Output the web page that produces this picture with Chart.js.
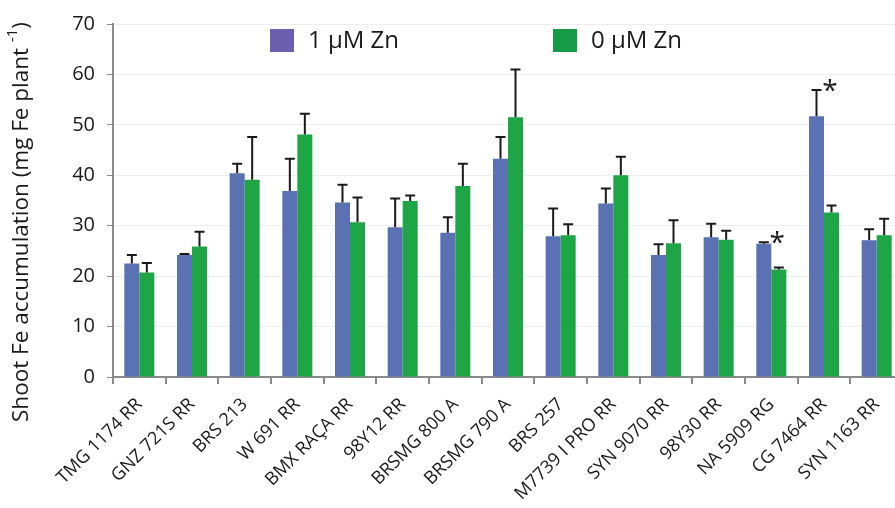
<!DOCTYPE html>
<html>
<head>
<meta charset="utf-8">
<script src="https://cdn.jsdelivr.net/npm/chart.js@4/dist/chart.umd.min.js"></script>
<style>
html,body{margin:0;padding:0;background:#fff;overflow:hidden;}
#wrap{width:895px;height:508px;overflow:hidden;position:relative;}
#box{width:903px;height:508px;position:absolute;left:0;top:0;}
</style>
</head>
<body>
<div id="wrap"><div id="box"><canvas id="c"></canvas></div></div>
<script>
const categories = ["TMG 1174 RR","GNZ 721S RR","BRS 213","W 691 RR","BMX RAÇA RR","98Y12 RR","BRSMG 800 A","BRSMG 790 A","BRS 257","M7739 I PRO RR","SYN 9070 RR","98Y30 RR","NA 5909 RG","CG 7464 RR","SYN 1163 RR"];
const zn1Mean = [22.5,24.2,40.4,36.9,34.6,29.7,28.6,43.3,27.9,34.4,24.2,27.7,26.4,51.7,27.1];
const zn1Err  = [1.7,0.2,1.9,6.4,3.5,5.7,3.1,4.3,5.5,3.0,2.1,2.7,0.3,5.2,2.2];
const zn0Mean = [20.7,25.9,39.1,48.1,30.7,34.9,37.9,51.5,28.1,40.0,26.5,27.2,21.3,32.6,28.1];
const zn0Err  = [1.9,2.9,8.5,4.1,4.9,1.1,4.4,9.5,2.2,3.7,4.6,1.8,0.4,1.4,3.3];
const signif  = ["","","","","","","","","","","","","*","*",""];
const yTicks  = [0,10,20,30,40,50,60,70];
const seriesLabels = ["1 \u00B5M Zn","0 \u00B5M Zn"];

const FONT = "'Open Sans', 'DejaVu Sans', sans-serif";
const errors = [zn1Err, zn0Err];

const errorBarPlugin = {
  id: 'errorBars',
  afterDatasetsDraw(chart) {
    const ctx = chart.ctx;
    const y = chart.scales.y;
    ctx.save();
    ctx.strokeStyle = '#1a1a1a';
    ctx.lineWidth = 2;
    chart.data.datasets.forEach((ds, di) => {
      const meta = chart.getDatasetMeta(di);
      meta.data.forEach((bar, i) => {
        const top = y.getPixelForValue(ds.data[i] + errors[di][i]);
        const base = bar.y;
        ctx.beginPath();
        ctx.moveTo(bar.x, base);
        ctx.lineTo(bar.x, top);
        ctx.moveTo(bar.x - 5, top);
        ctx.lineTo(bar.x + 5, top);
        ctx.stroke();
      });
    });
    const meta0 = chart.getDatasetMeta(0);
    ctx.fillStyle = '#1a1a1a';
    ctx.font = '28px ' + FONT;
    ctx.textAlign = 'center';
    ctx.textBaseline = 'middle';
    signif.forEach((s, i) => {
      if (!s) return;
      const bar = meta0.data[i];
      const top = y.getPixelForValue(zn1Mean[i] + zn1Err[i]);
      ctx.fillText(s, bar.x + bar.width / 2 + 6, top + 2);
    });
    ctx.restore();
  }
};

const legendPlugin = {
  id: 'innerLegend',
  afterDraw(chart) {
    const ctx = chart.ctx;
    const items = [
      {x: 270, color: '#6c5fae', text: seriesLabels[0]},
      {x: 553, color: '#179a48', text: seriesLabels[1]}
    ];
    ctx.save();
    ctx.font = '24px ' + FONT;
    ctx.textBaseline = 'middle';
    ctx.textAlign = 'left';
    items.forEach(it => {
      ctx.fillStyle = it.color;
      ctx.fillRect(it.x, 29, 24, 23);
      ctx.fillStyle = '#1a1a1a';
      ctx.fillText(it.text, it.x + 38, 41);
    });
    ctx.restore();
  }
};

const yTitlePlugin = {
  id: 'yTitle',
  afterDraw(chart) {
    const ctx = chart.ctx;
    const main = 'Shoot Fe accumulation (mg Fe plant ';
    const sup = '-1';
    const end = ')';
    ctx.save();
    ctx.translate(22, 222);
    ctx.rotate(-Math.PI / 2);
    ctx.fillStyle = '#1a1a1a';
    ctx.textBaseline = 'middle';
    ctx.font = '22.5px ' + FONT;
    const w1 = ctx.measureText(main).width;
    ctx.font = '15px ' + FONT;
    const w2 = ctx.measureText(sup).width;
    ctx.font = '22.5px ' + FONT;
    const w3 = ctx.measureText(end).width;
    let x = -(w1 + w2 + w3) / 2;
    ctx.textAlign = 'left';
    ctx.fillText(main, x, 0);
    x += w1;
    ctx.font = '15px ' + FONT;
    ctx.fillText(sup, x, -9);
    x += w2;
    ctx.font = '22.5px ' + FONT;
    ctx.fillText(end, x, 0);
    ctx.restore();
  }
};

new Chart(document.getElementById('c'), {
  type: 'bar',
  data: {
    labels: categories,
    datasets: [
      {label: seriesLabels[0], data: zn1Mean, backgroundColor: '#5a72b4', borderWidth: 0},
      {label: seriesLabels[1], data: zn0Mean, backgroundColor: '#1ea646', borderWidth: 0}
    ]
  },
  options: {
    responsive: true,
    maintainAspectRatio: false,
    animation: false,
    layout: {padding: {top: 21, right: 0, left: 0, bottom: 0}},
    plugins: {legend: {display: false}, tooltip: {enabled: false}, title: {display: false}},
    datasets: {bar: {categoryPercentage: 0.57, barPercentage: 1.0}},
    scales: {
      x: {
        grid: {display: true, drawOnChartArea: false, drawTicks: true, tickLength: 7, color: '#8a8a8a', lineWidth: 2, offset: true},
        border: {display: true, color: '#8a8a8a', width: 2},
        ticks: {
          font: {family: FONT, size: 18}, color: '#1a1a1a',
          minRotation: 45, maxRotation: 45, autoSkip: false, padding: 10
        },
        afterFit(scale) { scale.height = 131; }
      },
      y: {
        min: 0, max: 70,
        afterBuildTicks(scale) { scale.ticks = yTicks.map(v => ({value: v})); },
        grid: {color: '#eeeeee', lineWidth: 1, drawTicks: true, tickLength: 6, tickColor: '#8a8a8a'},
        border: {display: true, color: '#8a8a8a', width: 2},
        ticks: {font: {family: FONT, size: 20}, color: '#1a1a1a', padding: 12},
        afterFit(scale) { scale.width = 113; }
      }
    }
  },
  plugins: [errorBarPlugin, legendPlugin, yTitlePlugin]
});
</script>
</body>
</html>
